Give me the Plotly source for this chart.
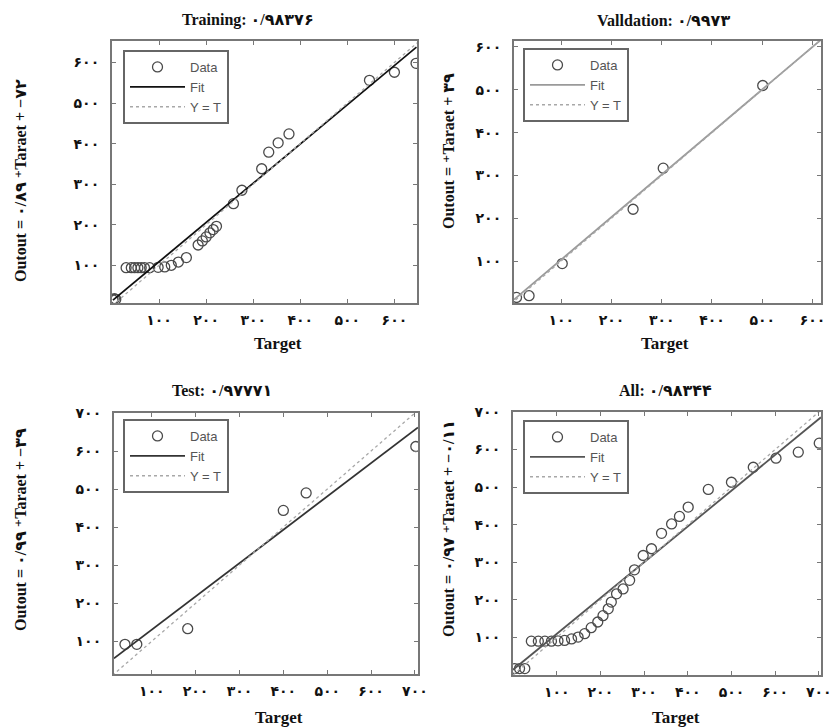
import plotly.graph_objects as go

# ---------------- data ----------------
train_target = [2, 5, 8, 30, 41, 48, 55, 62, 69, 80, 98, 112, 126, 141, 158,
                183, 192, 200, 208, 215, 222, 258, 276, 318, 333, 353, 376, 547, 600, 646]
train_output = [15, 18, 16, 94, 94, 94, 94, 94, 94, 94, 95, 96, 100, 108, 119,
                150, 160, 170, 180, 188, 196, 252, 285, 338, 379, 402, 424, 556, 576, 598]
train_fit_x = [2, 647]
train_fit_y = [14, 638]

val_target = [11, 36, 102, 243, 303, 501]
val_output = [15, 19, 94, 221, 317, 510]
val_fit_x = [6, 617]
val_fit_y = [10, 617]

test_target = [39, 66, 182, 400, 452, 702]
test_output = [92, 92, 133, 444, 490, 612]
test_fit_x = [14, 707]
test_fit_y = [55, 662]

all_target = [4, 15, 27, 42, 58, 73, 88, 103, 118, 134, 149, 164, 179, 194, 206,
              218, 225, 237, 252, 267, 278, 298, 317, 340, 363, 381, 401, 447, 500,
              550, 602, 653, 701]
all_output = [17, 17, 17, 90, 90, 90, 90, 91, 92, 96, 101, 110, 126, 141, 158,
              176, 194, 216, 229, 252, 280, 318, 336, 377, 402, 422, 447, 494, 513,
              553, 577, 593, 617]
all_fit_x = [0, 705]
all_fit_y = [14, 686]

identity = [0, 720]

titles = ["Training: ۰/۹۸۳۷۶", "Valldation: ۰/۹۹۷۳", "Test: ۰/۹۷۷۷۱", "All: ۰/۹۸۳۴۴"]
ylabels = ["Outout = ۰/۸۹ ⁺Taraet + −۷۲", "Outout = ⁺Taraet + ۳۹",
           "Outout = ۰/۹۹ ⁺Taraet + −۳۹", "Outout = ۰/۹۷ ⁺Taraet + −۰/۱۱"]
xlabel = "Target"
tick_vals = [100, 200, 300, 400, 500, 600, 700]
tick_text = ["۱۰۰", "۲۰۰", "۳۰۰", "۴۰۰", "۵۰۰", "۶۰۰", "۷۰۰"]
legend_names = ["Data", "Fit", "Y = T"]

# ---------------- layout helpers ----------------
W, H = 833, 728
def px(x): return x / W
def py(y): return 1 - y / H

panels = [
    dict(data=(train_target, train_output), fit=(train_fit_x, train_fit_y),
         dom=(112, 417, 41, 303), xr=[0, 648], yr=[7, 653], fitcol="#111111",
         title=(248, 20), ylab=(20, 181), xlab=(278, 343), leg=(123, 50)),
    dict(data=(val_target, val_output), fit=(val_fit_x, val_fit_y),
         dom=(514, 821, 41, 303), xr=[6, 617], yr=[2, 614], fitcol="#9a9a9a",
         title=(663, 20), ylab=(448, 151), xlab=(665, 343), leg=(523, 48)),
    dict(data=(test_target, test_output), fit=(test_fit_x, test_fit_y),
         dom=(114, 418, 413, 674), xr=[14, 707], yr=[14, 700], fitcol="#333333",
         title=(222, 390), ylab=(20, 530), xlab=(279, 717), leg=(123, 419)),
    dict(data=(all_target, all_output), fit=(all_fit_x, all_fit_y),
         dom=(513, 821, 412, 675), xr=[0, 705], yr=[0, 700], fitcol="#555555",
         title=(665, 390), ylab=(448, 529), xlab=(676, 717), leg=(523, 420)),
]

fig = go.Figure()
annotations = []
serif = "Liberation Serif, Times New Roman, DejaVu Sans, serif"
layout_kw = {}

for i, p in enumerate(panels):
    n = i + 1
    xa = "x" if n == 1 else f"x{n}"
    ya = "y" if n == 1 else f"y{n}"
    lg = "legend" if n == 1 else f"legend{n}"
    tx, ty = p["data"]
    fx, fy = p["fit"]
    fig.add_trace(go.Scatter(x=tx, y=ty, mode="markers", name=legend_names[0],
                             marker=dict(symbol="circle-open", size=10,
                                         color="#4a4a4a", line=dict(width=1.3)),
                             xaxis=xa, yaxis=ya, legend=lg))
    fig.add_trace(go.Scatter(x=fx, y=fy, mode="lines", name=legend_names[1],
                             line=dict(color=p["fitcol"], width=1.8),
                             xaxis=xa, yaxis=ya, legend=lg))
    fig.add_trace(go.Scatter(x=identity, y=identity, mode="lines", name=legend_names[2],
                             line=dict(color="#a8a8a8", width=1.3, dash="dot"),
                             xaxis=xa, yaxis=ya, legend=lg))
    x0, x1, y0, y1 = p["dom"]
    axcommon = dict(showgrid=False, zeroline=False, showline=True, linecolor="#777777",
                    linewidth=2, mirror="allticks", ticks="inside", ticklen=4,
                    tickcolor="#777777", tickvals=tick_vals, ticktext=tick_text,
                    automargin=False,
                    tickfont=dict(family=serif, size=14, color="#111111", weight="bold"))
    layout_kw["xaxis" if n == 1 else f"xaxis{n}"] = dict(
        domain=[px(x0), px(x1)], range=p["xr"], anchor=ya, ticklabelstandoff=3, **axcommon)
    layout_kw["yaxis" if n == 1 else f"yaxis{n}"] = dict(
        domain=[py(y1), py(y0)], range=p["yr"], anchor=xa, ticklabelstandoff=8, **axcommon)
    lx, ly = p["leg"]
    layout_kw[lg] = dict(x=px(lx), y=py(ly), xanchor="left", yanchor="top",
                         bgcolor="white", bordercolor="#666666", borderwidth=2,
                         font=dict(family="Liberation Sans, Arial, sans-serif", size=13,
                                   color="#555555"),
                         itemwidth=55, tracegroupgap=0)
    common_ann = dict(xref="paper", yref="paper", showarrow=False,
                      xanchor="center", yanchor="middle")
    annotations.append(dict(x=px(p["title"][0]), y=py(p["title"][1]), text=titles[i],
                            font=dict(family=serif, size=16, color="#111111", weight="bold"),
                            **common_ann))
    annotations.append(dict(x=px(p["ylab"][0]), y=py(p["ylab"][1]), text=ylabels[i],
                            textangle=-90,
                            font=dict(family=serif, size=16, color="#111111", weight="bold"),
                            **common_ann))
    annotations.append(dict(x=px(p["xlab"][0]), y=py(p["xlab"][1]), text=xlabel,
                            font=dict(family=serif, size=17, color="#111111", weight="bold"),
                            **common_ann))

fig.update_layout(width=W, height=H, margin=dict(l=0, r=0, t=0, b=0, autoexpand=False),
                  paper_bgcolor="white", plot_bgcolor="white", showlegend=True,
                  annotations=annotations, **layout_kw)

fig.write_html("out.html", config={"displayModeBar": False},
               post_script="document.body.style.margin='0px';")
